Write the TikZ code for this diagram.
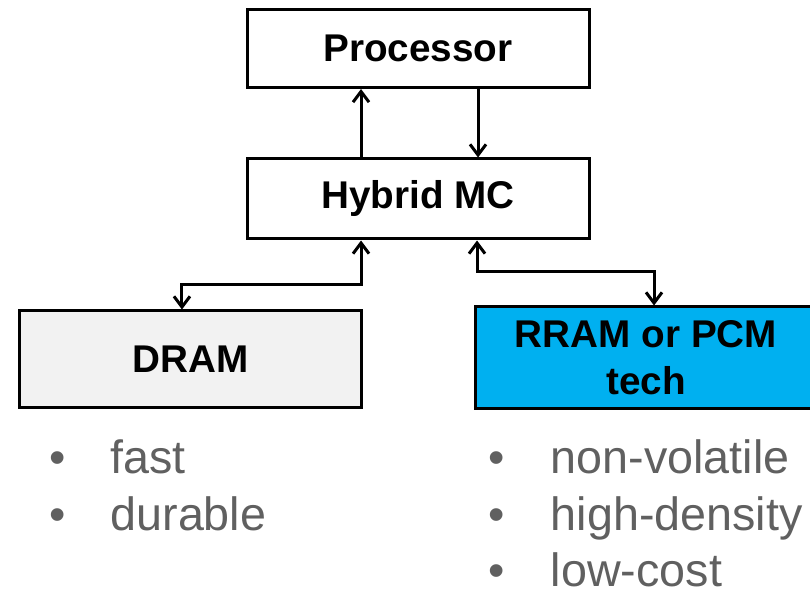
\documentclass[tikz,border=0pt]{standalone}
\usepackage{fontspec}
\setmainfont{Liberation Sans}
\usepackage{xcolor}
\usepackage{tikz}
\usetikzlibrary{shapes, arrows.meta, positioning}

\definecolor{memblue}{HTML}{00B0F0}
\definecolor{memgray}{HTML}{F2F2F2}
\definecolor{bulletgray}{RGB}{96,96,96}

\begin{document}
\begin{tikzpicture}[x=0.75pt, y=-0.75pt,
            block/.style={draw, rectangle, line width=2.25pt, minimum width=256.5pt, inner sep=0pt,
                          align=center, font=\fontsize{29}{35.25}\selectfont\bfseries},
            item/.style={inner sep=0pt, text=bulletgray, font=\fontsize{35}{42}\selectfont},
            arrow/.style={-{Straight Barb[length=8pt, width=12pt]}, line width=2.25pt},
            dblarrow/.style={{Straight Barb[length=8pt, width=12pt]}-{Straight Barb[length=8pt, width=12pt]}, line width=2.25pt}]

            \clip (0,0) rectangle (810,591);

            \node[block, minimum height=58.5pt] (proc) at (418,48.5) {Processor};
            \node[block, minimum height=60pt] (hybrid) at (418,199) {Hybrid MC};
            \node[block, minimum height=72pt, fill=memgray] (dram) at (190.5,359) {DRAM};
            \node[block, minimum height=75.75pt, fill=memblue] (rram) at (646,357.5) {RRAM or PCM\\tech};

            % feature lists
            \node[item, anchor=base west] (fast) at (49,473) {\makebox[46pt][l]{\textbullet}fast};
            \node[item, anchor=base west] (durable) at (49,530) {\makebox[46pt][l]{\textbullet}durable};
            \node[item, anchor=base west] (nonvol) at (488,473) {\makebox[47pt][l]{\textbullet}non-volatile};
            \node[item, anchor=base west] (dense) at (488,530) {\makebox[47pt][l]{\textbullet}high-density};
            \node[item, anchor=base west, text depth=0pt] (cheap) at (488,586) {\makebox[47pt][l]{\textbullet}low-cost};

            \draw[arrow] ([xshift=-42.75pt]hybrid.north) -- ([xshift=-42.75pt]proc.south);
            \draw[arrow] ([xshift=45pt]proc.south) -- ([xshift=45pt]hybrid.north);
            \draw[dblarrow] ([xshift=-42.75pt]hybrid.south) -- ++(0,44) -| ([xshift=-6.4pt]dram.north);
            \draw[dblarrow] ([xshift=44.25pt]hybrid.south) -- ++(0,31) -| ([xshift=6pt]rram.north);
        \end{tikzpicture}
\end{document}
